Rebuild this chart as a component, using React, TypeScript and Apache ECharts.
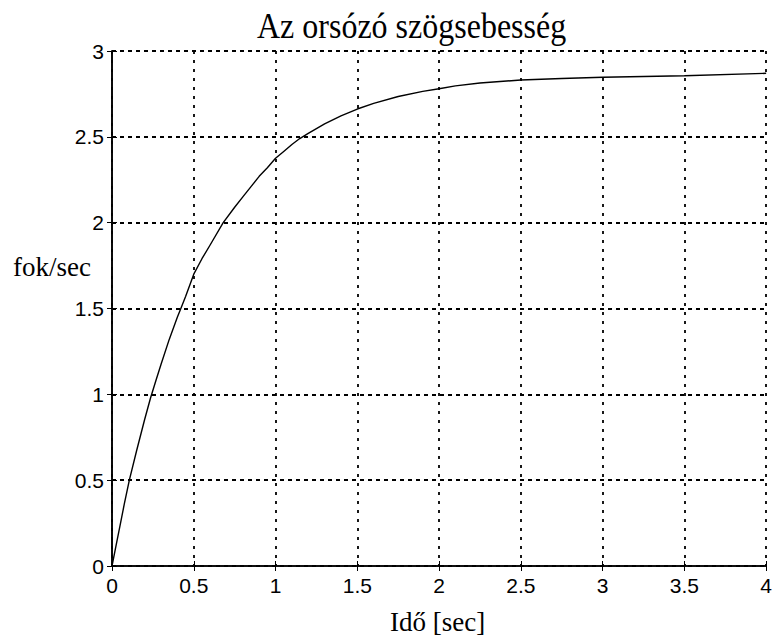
import React, { useEffect, useRef } from "react";
import * as echarts from "echarts";

// Time (sec) and angular speed (fok/sec)
const timeSec = [0, 0.025, 0.05, 0.075, 0.106, 0.15, 0.2, 0.236, 0.27, 0.3, 0.35, 0.4, 0.421, 0.45, 0.5, 0.55, 0.6, 0.68, 0.75, 0.8, 0.85, 0.9, 0.95, 1.0, 1.05, 1.1, 1.148, 1.2, 1.3, 1.4, 1.5, 1.6, 1.75, 1.9, 2.0, 2.1, 2.25, 2.5, 2.75, 3.0, 3.5, 4.0];
const speed = [0, 0.12, 0.24, 0.36, 0.5, 0.67, 0.855, 0.98, 1.085, 1.175, 1.32, 1.45, 1.5, 1.57, 1.7, 1.79, 1.87, 2.0, 2.09, 2.15, 2.21, 2.27, 2.32, 2.375, 2.415, 2.455, 2.49, 2.52, 2.575, 2.622, 2.662, 2.695, 2.735, 2.765, 2.78, 2.797, 2.814, 2.831, 2.84, 2.847, 2.856, 2.87];

const titleText = "Az orsózó szögsebesség";
const xLabel = "Idő [sec]";
const yLabel = "fok/sec";

export default function App() {
  const ref = useRef<HTMLDivElement>(null);
  useEffect(() => {
    document.body.style.margin = "0";
    if (!ref.current) return;
    const chart = echarts.init(ref.current, null, { renderer: "svg" });
    const serif = '"Liberation Serif", "Times New Roman", serif';
    const sans = '"Liberation Sans", Arial, sans-serif';
    const hiddenAxisCommon = {
      axisLabel: { show: false },
      splitLine: { show: false },
      axisLine: { show: true, lineStyle: { color: "#000", width: 1.6 } },
      axisTick: { show: true, inside: true, length: 5, lineStyle: { color: "#000", width: 1 } },
    };
    chart.setOption({
      animation: false,
      backgroundColor: "#fff",
      grid: { left: 112, right: 8, top: 51, bottom: 75, containLabel: false },
      xAxis: [
        {
          type: "value",
          min: 0,
          max: 4,
          interval: 0.5,
          position: "bottom",
          axisLine: { show: true, onZero: false, lineStyle: { color: "#000", width: 1.6 } },
          axisTick: { show: true, inside: true, length: 5, lineStyle: { color: "#000", width: 1 } },
          axisLabel: { color: "#000", fontFamily: sans, fontSize: 21, margin: 9 },
          splitLine: { show: true, lineStyle: { color: "#000", type: [3, 6] as any, width: 1.8 } },
        },
        {
          type: "value",
          min: 0,
          max: 4,
          interval: 0.5,
          position: "top",
          ...hiddenAxisCommon,
        },
      ],
      yAxis: [
        {
          type: "value",
          min: 0,
          max: 3,
          interval: 0.5,
          position: "left",
          axisLine: { show: true, onZero: false, lineStyle: { color: "#000", width: 1.6 } },
          axisTick: { show: true, inside: true, length: 5, lineStyle: { color: "#000", width: 1 } },
          axisLabel: { color: "#000", fontFamily: sans, fontSize: 21, margin: 8 },
          splitLine: { show: true, lineStyle: { color: "#000", type: [4, 4] as any, width: 1.8 } },
        },
        {
          type: "value",
          min: 0,
          max: 3,
          interval: 0.5,
          position: "right",
          ...hiddenAxisCommon,
        },
      ],
      series: [
        {
          type: "line",
          xAxisIndex: 0,
          yAxisIndex: 0,
          data: timeSec.map((t, i) => [t, speed[i]]),
          showSymbol: false,
          symbol: "none",
          lineStyle: { color: "#000", width: 1.4 },
          z: 5,
        },
      ],
      graphic: [
        {
          type: "text",
          x: 257,
          y: 8,
          scaleX: 1,
          scaleY: 1.12,
          style: { text: titleText, font: `32px ${serif}`, fill: "#000" },
        },
        {
          type: "text",
          left: 13,
          top: 253,
          style: { text: yLabel, font: `27px ${serif}`, fill: "#000" },
        },
        {
          type: "text",
          left: 390,
          top: 608,
          style: { text: xLabel, font: `27px ${serif}`, fill: "#000" },
        },
      ],
    });
    return () => chart.dispose();
  }, []);
  return <div ref={ref} style={{ width: 775, height: 641 }} />;
}
